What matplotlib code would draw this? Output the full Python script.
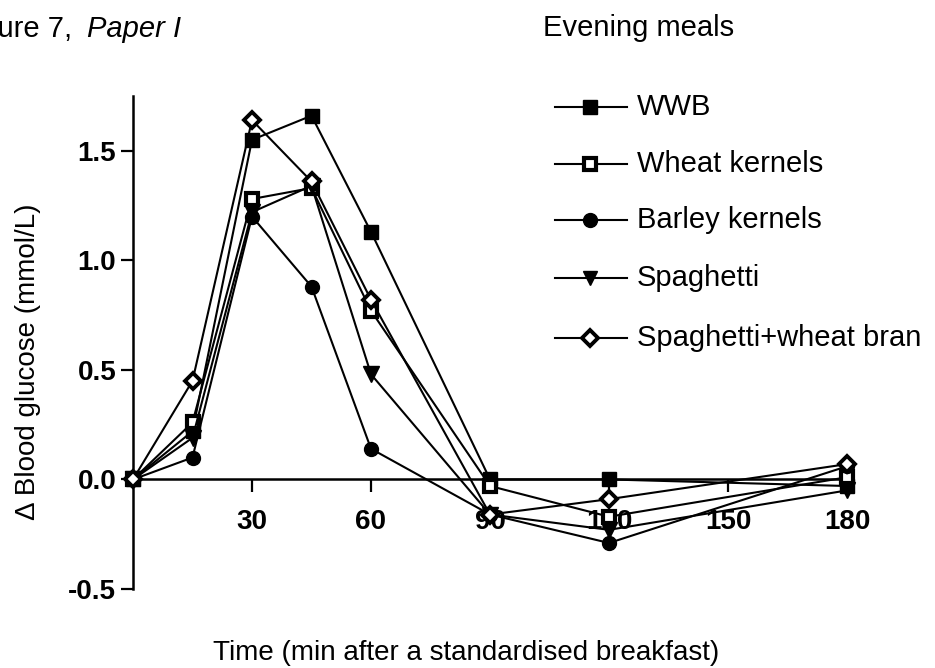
import matplotlib
matplotlib.use("Agg")
import matplotlib.pyplot as plt

plt.rcParams['font.family'] = ['Liberation Sans', 'DejaVu Sans']

# data
times = [0, 15, 30, 45, 60, 90, 120, 180]
wwb = [0, 0.22, 1.55, 1.66, 1.13, 0.0, 0.0, -0.03]
wheat_kernels = [0, 0.26, 1.28, 1.33, 0.77, -0.03, -0.17, 0.01]
barley_kernels = [0, 0.10, 1.20, 0.88, 0.14, -0.16, -0.29, 0.06]
spaghetti = [0, 0.19, 1.22, 1.34, 0.48, -0.16, -0.23, -0.05]
spaghetti_bran = [0, 0.45, 1.64, 1.36, 0.82, -0.16, -0.09, 0.07]

labels = ["WWB", "Wheat kernels", "Barley kernels", "Spaghetti",
          "Spaghetti+wheat bran"]
x_ticks = [30, 60, 90, 120, 150, 180]
y_ticks = [-0.5, 0.0, 0.5, 1.0, 1.5]

series = [wwb, wheat_kernels, barley_kernels, spaghetti, spaghetti_bran]
styles = [
    dict(marker='s', ms=10, mfc='black', mec='black', mew=1),
    dict(marker='s', ms=9, mfc='white', mec='black', mew=3),
    dict(marker='o', ms=10, mfc='black', mec='black', mew=1),
    dict(marker='v', ms=11, mfc='black', mec='black', mew=1),
    dict(marker='D', ms=8.5, mfc='white', mec='black', mew=2.8),
]
draw_order = [2, 3, 1, 4, 0]

W, H = 935, 668
fig = plt.figure(figsize=(W / 100, H / 100), dpi=100)

# axes: x 0..180 -> px 133..847, y -0.5..1.75 -> px 589..96
ax = fig.add_axes([133 / W, 1 - 589 / H, (847 - 133) / W, (589 - 96) / H])
for i in draw_order:
    ax.plot(times, series[i], color='black', lw=1.5, clip_on=False,
            zorder=3 + i * 0.1, **styles[i])

ax.set_xlim(0, 180)
ax.set_ylim(-0.5, 1.75)
ax.spines['top'].set_visible(False)
ax.spines['right'].set_visible(False)
ax.spines['bottom'].set_position(('data', 0))
ax.spines['left'].set_linewidth(1.8)
ax.spines['bottom'].set_linewidth(1.8)

ax.set_xticks(x_ticks)
ax.set_xticklabels([str(t) for t in x_ticks])
ax.set_yticks(y_ticks)
ax.set_yticklabels([f"{v:.1f}" for v in y_ticks])
ax.tick_params(axis='both', direction='out', length=9, width=1.6,
               labelsize=20)
ax.tick_params(axis='x', pad=12)
ax.tick_params(axis='y', pad=3)
for lab in ax.get_xticklabels() + ax.get_yticklabels():
    lab.set_fontweight('bold')

fig.text(466 / W, 1 - 660 / H, "Time (min after a standardised breakfast)",
         ha='center', va='baseline', fontsize=20)
fig.text(28 / W, 1 - 520 / H, "\u0394 Blood glucose (mmol/L)",
         rotation=90, ha='center', va='bottom', fontsize=20)

# the reference crops the start of this caption at the left edge
fig.text(72 / W, 1 - 37 / H, "Figure 7,", ha='right', va='baseline',
         fontsize=21)
fig.text(87 / W, 1 - 37 / H, "Paper I", ha='left', va='baseline',
         fontsize=21, style='italic')
fig.text(543 / W, 1 - 36 / H, "Evening meals", ha='left', va='baseline',
         fontsize=21)

# legend drawn by hand on an overlay in pixel coordinates
leg = fig.add_axes([0, 0, 1, 1], facecolor='none')
leg.set_xlim(0, W)
leg.set_ylim(H, 0)
leg.axis('off')
leg_y = [107, 164, 220, 278, 338]
leg_styles = [
    dict(marker='s', ms=10, mfc='black', mec='black', mew=1),
    dict(marker='s', ms=8, mfc='white', mec='black', mew=3),
    dict(marker='o', ms=10, mfc='black', mec='black', mew=1),
    dict(marker='v', ms=10, mfc='black', mec='black', mew=1),
    dict(marker='D', ms=8, mfc='white', mec='black', mew=2.8),
]
for y, lab, st in zip(leg_y, labels, leg_styles):
    leg.plot([555, 627], [y, y], color='black', lw=1.5)
    leg.plot([590], [y], color='black', **st)
    leg.text(637, y, lab, ha='left', va='center', fontsize=21)

fig.savefig("out.png", dpi=100)
